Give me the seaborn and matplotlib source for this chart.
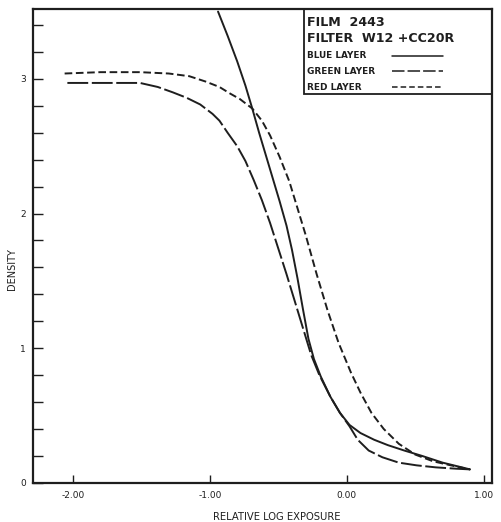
import numpy as np
import pandas as pd
import matplotlib
matplotlib.use("Agg")
import matplotlib.pyplot as plt
import seaborn as sns
from matplotlib.patches import Rectangle
from matplotlib.lines import Line2D

# ---- data ----
blue_x = [-0.94, -0.87, -0.80, -0.74, -0.69, -0.64, -0.59, -0.54, -0.49, -0.44, -0.40, -0.36,
          -0.32, -0.28, -0.24, -0.19, -0.12, -0.05, 0.02, 0.10, 0.20, 0.30, 0.42, 0.55, 0.70, 0.90]
blue_y = [3.50, 3.32, 3.13, 2.95, 2.78, 2.60, 2.43, 2.26, 2.09, 1.91, 1.73, 1.52,
          1.29, 1.07, 0.92, 0.79, 0.64, 0.52, 0.43, 0.37, 0.32, 0.28, 0.24, 0.20, 0.15, 0.10]

green_x = [-2.04, -1.75, -1.51, -1.38, -1.27, -1.17, -1.07, -0.98, -0.93, -0.87, -0.80, -0.74,
           -0.68, -0.62, -0.56, -0.50, -0.44, -0.38, -0.32, -0.26, -0.20, -0.12, -0.05, 0.02,
           0.08, 0.16, 0.26, 0.38, 0.51, 0.65, 0.80, 0.90]
green_y = [2.97, 2.97, 2.97, 2.94, 2.90, 2.86, 2.81, 2.74, 2.69, 2.60, 2.50, 2.39,
           2.25, 2.10, 1.93, 1.74, 1.55, 1.35, 1.15, 0.95, 0.80, 0.64, 0.52, 0.42,
           0.32, 0.24, 0.19, 0.15, 0.13, 0.115, 0.105, 0.10]

red_x = [-2.06, -1.80, -1.51, -1.30, -1.15, -1.03, -0.93, -0.85, -0.78, -0.69, -0.62, -0.56,
         -0.49, -0.42, -0.36, -0.30, -0.22, -0.14, -0.06, 0.03, 0.10, 0.18, 0.27, 0.38,
         0.50, 0.63, 0.76, 0.90]
red_y = [3.04, 3.05, 3.05, 3.04, 3.02, 2.98, 2.94, 2.89, 2.85, 2.78, 2.69, 2.58,
         2.42, 2.24, 2.04, 1.84, 1.55, 1.28, 1.04, 0.82, 0.67, 0.52, 0.40, 0.29,
         0.21, 0.16, 0.13, 0.10]

layer_names = ["BLUE LAYER", "GREEN LAYER", "RED LAYER"]
x_ticks = [-2.0, -1.0, 0.0, 1.0]
x_tick_labels = ["-2.00", "-1.00", "0.00", "1.00"]
y_ticks = [0, 1, 2, 3]
y_tick_labels = ["0", "1", "2", "3"]
title_lines = ["FILM  2443", "FILTER  W12 +CC20R"]

# ---- style ----
sns.set_style("ticks")
plt.rcParams["font.family"] = ["DejaVu Sans"]
plt.rcParams["lines.scale_dashes"] = False
INK = "#1e1e1e"

fig = plt.figure(figsize=(5.02, 5.22), dpi=100)
ax = fig.add_axes([0.066, 0.075, 0.914, 0.908])

frames = []
for name, xs, ys in zip(layer_names, [blue_x, green_x, red_x], [blue_y, green_y, red_y]):
    frames.append(pd.DataFrame({"x": xs, "y": ys, "layer": name}))
df = pd.concat(frames, ignore_index=True)

dash_map = {"BLUE LAYER": "", "GREEN LAYER": (15, 2.6), "RED LAYER": (5.5, 2.6)}
sns.lineplot(data=df, x="x", y="y", style="layer", dashes=dash_map,
             color=INK, linewidth=1.4, estimator=None, sort=False,
             legend=False, ax=ax)

ax.set_xlim(-2.29, 1.06)
ax.set_ylim(0, 3.52)

ax.set_xticks(x_ticks)
ax.set_xticklabels(x_tick_labels, fontsize=6.5, color=INK)
ax.set_yticks(y_ticks)
ax.set_yticklabels(y_tick_labels, fontsize=6.5, color=INK)
ax.set_yticks(np.arange(0.2, 3.5, 0.2), minor=True)
ax.tick_params(axis="both", which="both", direction="in", color=INK, width=1.0)
ax.tick_params(axis="x", which="major", length=6, pad=6)
ax.tick_params(axis="y", which="major", length=7, pad=5)
ax.tick_params(axis="y", which="minor", length=7)

for s in ax.spines.values():
    s.set_visible(True)
    s.set_linewidth(1.6)
    s.set_color(INK)

ax.set_xlabel("RELATIVE LOG EXPOSURE", fontsize=7.2, color=INK)
ax.set_ylabel("DENSITY", fontsize=7.0, color=INK)
ax.xaxis.label.set_va("center")
ax.yaxis.label.set_va("center")
ax.xaxis.set_label_coords(0.532, -0.073)
ax.yaxis.set_label_coords(-0.046, 0.45)

# ---- legend box (top right) ----
bx0, by0 = 0.59, 0.82
ax.add_patch(Rectangle((bx0, by0), 1 - bx0, 1 - by0, transform=ax.transAxes,
                       fill=False, edgecolor=INK, linewidth=1.3, zorder=5))
ax.text(bx0 + 0.006, 0.972, title_lines[0], transform=ax.transAxes, fontsize=9.1,
        fontweight="bold", color=INK, va="center", ha="left")
ax.text(bx0 + 0.006, 0.937, title_lines[1], transform=ax.transAxes, fontsize=9.1,
        fontweight="bold", color=INK, va="center", ha="left")
leg_y = [0.901, 0.868, 0.835]
for name, yy in zip(layer_names, leg_y):
    ax.text(bx0 + 0.006, yy, name, transform=ax.transAxes, fontsize=6.4,
            fontweight="bold", color=INK, va="center", ha="left")
    ln = Line2D([0.782, 0.893], [yy, yy], transform=ax.transAxes, color=INK,
                linewidth=1.1)
    if dash_map[name]:
        ln.set_dashes((9, 2.2) if name == "GREEN LAYER" else (4, 2.2))
    ax.add_line(ln)

fig.savefig("out.png", dpi=100, facecolor="white")
